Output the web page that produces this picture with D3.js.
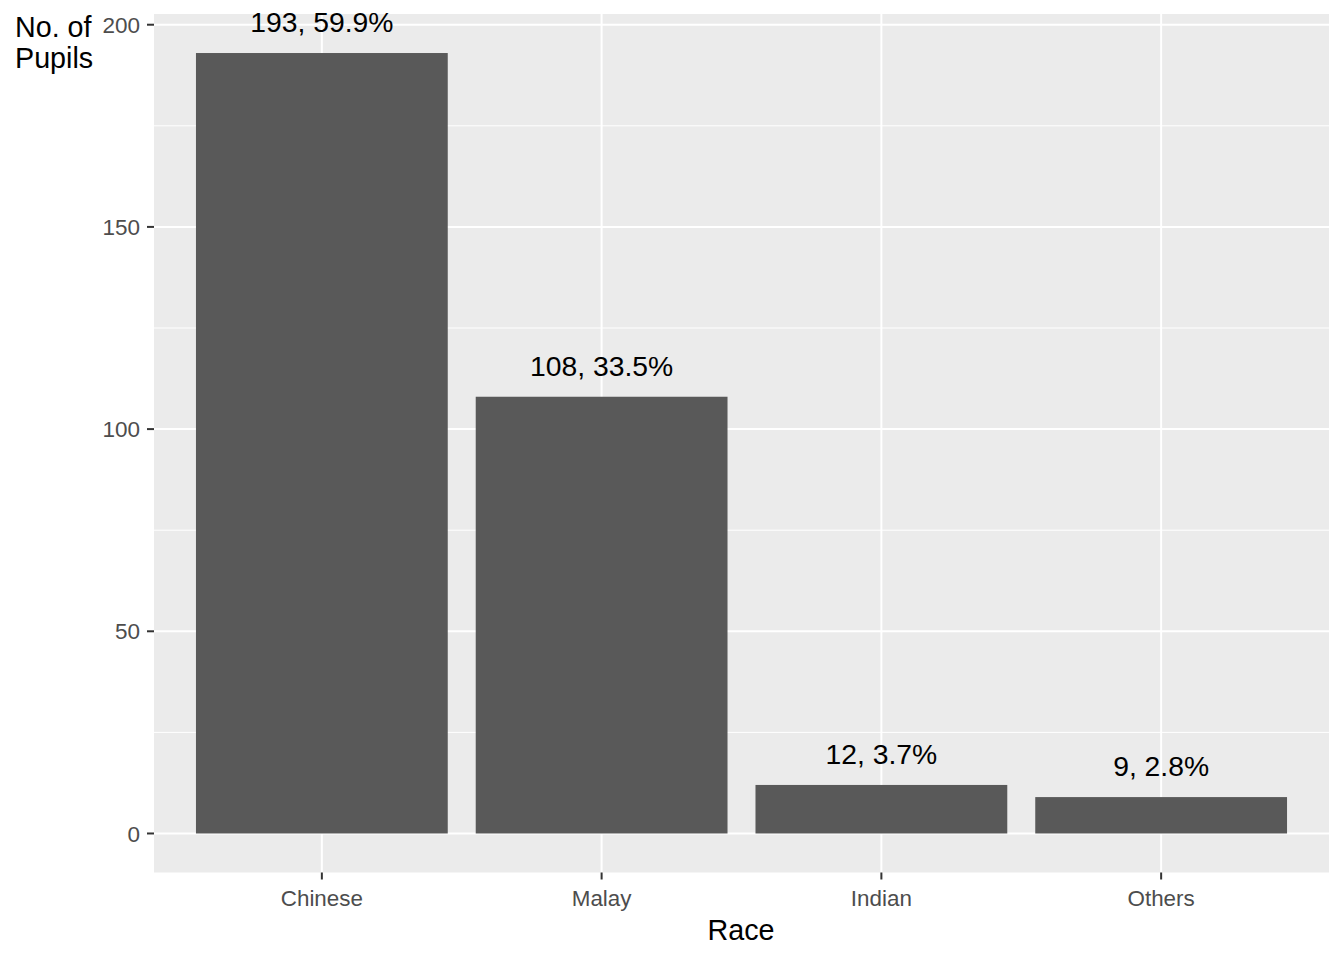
<!DOCTYPE html>
<html><head><meta charset="utf-8">
<script src="https://cdn.jsdelivr.net/npm/d3@7"></script>
<style>body{margin:0;background:#fff}svg{display:block}text{font-family:"Liberation Sans",Arial,sans-serif}</style>
</head><body><svg id="c" width="1344" height="960"></svg>
<script>
const categories = ["Chinese","Malay","Indian","Others"];
const counts = [193,108,12,9];
const labels = ["193, 59.9%","108, 33.5%","12, 3.7%","9, 2.8%"];
const yTicks = [0,50,100,150,200];
const yMinor = [25,75,125,175];

const svg = d3.select("#c");
const L=154, R=1329, T=14, B=872.5;
const yMax = d3.max(counts);
const x = d3.scaleBand().domain(categories).range([L,R]).paddingOuter(0.1).paddingInner(0);
const step = x.step();
const xc = c => x(c) + step/2;
const y = d3.scaleLinear().domain([-yMax*0.05, yMax*1.05]).range([B,T]);

svg.append("rect").attr("x",L).attr("y",T).attr("width",R-L).attr("height",B-T).attr("fill","#EBEBEB");
svg.selectAll(".ymin").data(yMinor).enter().append("line")
 .attr("x1",L).attr("x2",R).attr("y1",d=>y(d)).attr("y2",d=>y(d)).attr("stroke","#fff").attr("stroke-width",1);
svg.selectAll(".ymaj").data(yTicks).enter().append("line")
 .attr("x1",L).attr("x2",R).attr("y1",d=>y(d)).attr("y2",d=>y(d)).attr("stroke","#fff").attr("stroke-width",2);
svg.selectAll(".xmaj").data(categories).enter().append("line")
 .attr("x1",d=>xc(d)).attr("x2",d=>xc(d)).attr("y1",T).attr("y2",B).attr("stroke","#fff").attr("stroke-width",2);

const bw = step*0.9;
svg.selectAll(".bar").data(categories).enter().append("rect")
 .attr("x",d=>xc(d)-bw/2).attr("width",bw)
 .attr("y",(d,i)=>y(counts[i])).attr("height",(d,i)=>y(0)-y(counts[i]))
 .attr("fill","#595959");

svg.selectAll(".lab").data(categories).enter().append("text")
 .attr("x",d=>xc(d)).attr("y",(d,i)=>y(counts[i])-21)
 .attr("text-anchor","middle").attr("font-size",28.3).attr("fill","#000")
 .text((d,i)=>labels[i]);

// y axis
svg.selectAll(".yt").data(yTicks).enter().append("line")
 .attr("x1",L-7).attr("x2",L).attr("y1",d=>y(d)).attr("y2",d=>y(d)).attr("stroke","#333").attr("stroke-width",2);
svg.selectAll(".ytl").data(yTicks).enter().append("text")
 .attr("x",L-14).attr("y",d=>y(d)).attr("dy","0.36em").attr("text-anchor","end")
 .attr("font-size",22.5).attr("fill","#4D4D4D").text(d=>d);
// x axis
svg.selectAll(".xt").data(categories).enter().append("line")
 .attr("x1",d=>xc(d)).attr("x2",d=>xc(d)).attr("y1",B).attr("y2",B+7).attr("stroke","#333").attr("stroke-width",2);
svg.selectAll(".xtl").data(categories).enter().append("text")
 .attr("x",d=>xc(d)).attr("y",906).attr("text-anchor","middle")
 .attr("font-size",22.4).attr("fill","#4D4D4D").text(d=>d);

svg.append("text").attr("x",741).attr("y",940).attr("text-anchor","middle").attr("font-size",28.7).attr("fill","#000").text("Race");
const yt = svg.append("text").attr("font-size",28.7).attr("fill","#000");
yt.append("tspan").attr("x",15).attr("y",36.5).text("No. of");
yt.append("tspan").attr("x",15).attr("y",67.5).text("Pupils");
</script></body></html>
